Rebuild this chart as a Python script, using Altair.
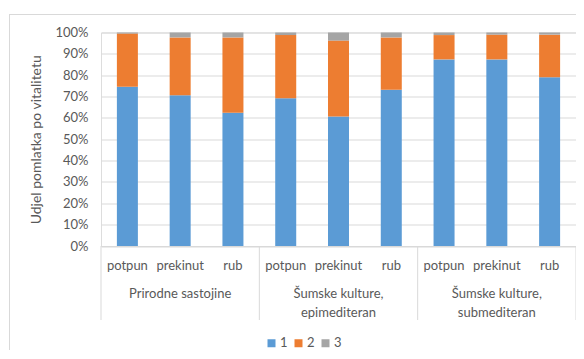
import altair as alt
import pandas as pd

groups = ["Prirodne sastojine", "Šumske kulture,\nepimediteran", "Šumske kulture,\nsubmediteran"]
subs = ["potpun", "prekinut", "rub"]
series = ["1", "2", "3"]
v1 = [74.6, 70.6, 62.4, 69.2, 60.7, 73.2, 87.4, 87.4, 79.0]
v2 = [24.9, 27.1, 35.3, 29.6, 35.5, 24.5, 11.4, 11.6, 20.0]
v3 = [0.5, 2.3, 2.3, 1.2, 3.8, 2.3, 1.2, 1.0, 1.0]
separators = [0, 3, 6, 9]
group_centers = [1.5, 4.5, 7.5]
y_ticks = [0, 0.1, 0.2, 0.3, 0.4, 0.5, 0.6, 0.7, 0.8, 0.9, 1.0]

rows = []
keys = []
i = 0
for g in range(len(groups)):
    for s in subs:
        key = f"{g}|{s}"
        keys.append(key)
        for name, vals in zip(series, [v1, v2, v3]):
            rows.append({"key": key, "serie": name, "value": vals[i]})
        i += 1
df = pd.DataFrame(rows)
sep_df = pd.DataFrame({"pos": separators})
grp_df = pd.DataFrame({"pos": group_centers, "label": groups})

W = 475
H = 213.5
FONT = "Lato"
TXT = "#595959"
GRID = "#D9D9D9"

bars = alt.Chart(df).mark_bar(size=21).encode(
    x=alt.X("key:N", sort=keys, title=None,
            scale=alt.Scale(paddingInner=0.6, paddingOuter=0.3),
            axis=alt.Axis(labelExpr="split(datum.label, '|')[1]", labelAngle=0,
                          ticks=False, labelPadding=13, domainColor=GRID,
                          labelColor=TXT, labelFontSize=13, labelFont=FONT)),
    y=alt.Y("value:Q", stack="normalize",
            scale=alt.Scale(domain=[0, 1]),
            axis=alt.Axis(format="%", values=y_ticks, labelOverlap=False,
                          title="Udjel pomlatka po vitalitetu", domain=False, ticks=False,
                          labelPadding=13, gridColor=GRID, labelColor=TXT,
                          labelFontSize=13, labelFont=FONT, titleColor=TXT,
                          titleFont=FONT, titleFontSize=14, titleFontWeight="normal",
                          titleX=-65, titleY=H / 2, titleAngle=270,
                          titleBaseline="middle", titleAlign="center")),
    color=alt.Color("serie:N", sort=series,
                    scale=alt.Scale(domain=series, range=["#5B9BD5", "#ED7D31", "#A5A5A5"]),
                    legend=alt.Legend(title=None, orient="none", direction="horizontal",
                                      legendX=164, legendY=304, symbolType="square",
                                      symbolSize=64, symbolStrokeWidth=0, labelFontSize=13,
                                      labelColor=TXT, labelFont=FONT, labelOffset=2,
                                      columnPadding=4, padding=0)),
    order=alt.Order("serie:N", sort="ascending"),
)

xq = alt.X("pos:Q", scale=alt.Scale(domain=[0, 9], nice=False, zero=False), axis=None)

rules = alt.Chart(sep_df).mark_rule(color=GRID, strokeWidth=1).encode(
    x=xq, y=alt.value(H), y2=alt.value(H + 74)
)

glabels = alt.Chart(grp_df).mark_text(
    lineBreak="\n", baseline="top", align="center", fontSize=13, font=FONT,
    color=TXT, lineHeight=19
).encode(x=xq, y=alt.value(H + 41.5), text="label:N")

border = alt.Chart(sep_df).mark_rect(fill=None, stroke=GRID, strokeWidth=1).encode(
    x=alt.value(-91.5), x2=alt.value(W + 40), y=alt.value(-18), y2=alt.value(H + 200)
)

chart = alt.layer(border, bars, rules, glabels).resolve_scale(x="independent").properties(
    width=W, height=H,
    autosize=alt.AutoSizeParams(type="none"),
    padding={"left": 93, "top": 24.5, "right": 0, "bottom": 104},
).configure_view(stroke=None).configure(background="white")

chart.save("out.html", embed_options={"renderer": "svg", "actions": False})
